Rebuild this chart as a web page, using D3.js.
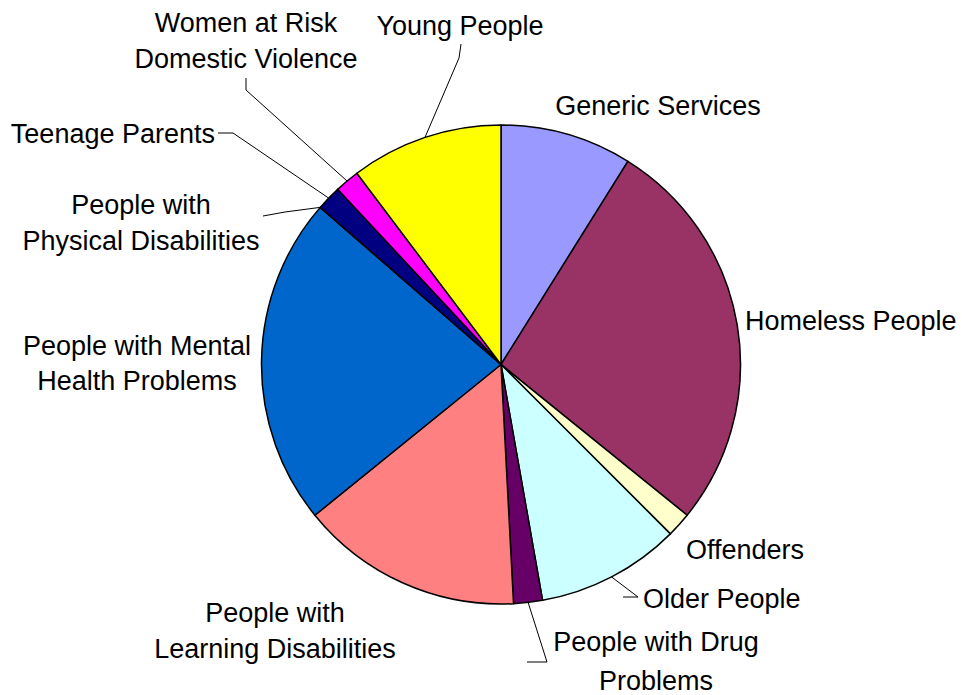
<!DOCTYPE html>
<html>
<head>
<meta charset="utf-8">
<script src="https://cdn.jsdelivr.net/npm/d3@7/dist/d3.min.js"></script>
<style>
  html, body { margin: 0; padding: 0; background: #fff; }
  svg text { font-family: "Liberation Sans", Arial, sans-serif; font-size: 27px; fill: #000; }
</style>
</head>
<body>
<svg id="chart" width="962" height="695"></svg>
<script>
// ---- data ----
const categories = [
  "Generic Services", "Homeless People", "Offenders", "Older People",
  "People with Drug Problems", "People with Learning Disabilities",
  "People with Mental Health Problems", "People with Physical Disabilities",
  "Teenage Parents", "Women at Risk Domestic Violence", "Young People"
];
const values = [32, 97, 6, 35, 7, 54, 80, 0, 6, 6, 37];
const labelLines = [
  ["Generic Services"], ["Homeless People"], ["Offenders"], ["Older People"],
  ["People with Drug", "Problems"], ["People with", "Learning Disabilities"],
  ["People with Mental", "Health Problems"], ["People with", "Physical Disabilities"],
  ["Teenage Parents"], ["Women at Risk", "Domestic Violence"], ["Young People"]
];
const colors = ["#9999FF", "#993366", "#FFFFCC", "#CCFFFF", "#660066", "#FF8080",
                "#0066CC", "#CCCCFF", "#000080", "#FF00FF", "#FFFF00"];

// ---- layout (label placement) ----
const cx = 501, cy = 364.5, R = 239.5;
const labelLayout = [
  { x: 658, y: [105], anchor: "middle" },
  { x: 745, y: [320], anchor: "start" },
  { x: 686, y: [549], anchor: "start" },
  { x: 643, y: [598], anchor: "start", leader: [[623, 597], [638, 597]] },
  { x: 656, y: [641, 680], anchor: "middle", leader: [[527, 662], [547, 662]] },
  { x: 275, y: [612, 648], anchor: "middle" },
  { x: 137, y: [345, 380], anchor: "middle" },
  { x: 141, y: [204, 240], anchor: "middle", leader: [[263, 216], [285, 212]], mode: "start" },
  { x: 215, y: [133], anchor: "end", leader: [[218, 133], [233, 133]] },
  { x: 246, y: [22, 58], anchor: "middle", leader: [[246, 78], [246, 90]] },
  { x: 460, y: [25], anchor: "middle", leader: [[461, 44], [459, 58]] }
];

const svg = d3.select("#chart");
const g = svg.append("g").attr("transform", `translate(${cx},${cy})`);

const pie = d3.pie().sort(null).value(d => d);
const arcs = pie(values);
const arc = d3.arc().innerRadius(0).outerRadius(R);

g.selectAll("path.slice")
  .data(arcs)
  .join("path")
  .attr("class", "slice")
  .attr("d", arc)
  .attr("fill", (d, i) => colors[i])
  .attr("stroke", "#000")
  .attr("stroke-width", 1.5)
  .attr("stroke-linejoin", "round");

// leader lines
arcs.forEach((d, i) => {
  const L = labelLayout[i];
  if (!L.leader) return;
  const a = (L.mode === "start") ? d.startAngle : (d.startAngle + d.endAngle) / 2;
  const px = cx + R * Math.sin(a), py = cy - R * Math.cos(a);
  const pts = [[px, py]].concat(L.leader.slice().reverse());
  svg.append("path")
    .attr("d", d3.line()(pts))
    .attr("fill", "none")
    .attr("stroke", "#000")
    .attr("stroke-width", 1);
});

// labels
labelLayout.forEach((L, i) => {
  const t = svg.append("text").attr("text-anchor", L.anchor);
  labelLines[i].forEach((line, j) => {
    t.append("tspan").attr("x", L.x).attr("y", L.y[j]).attr("dy", "0.36em").text(line);
  });
});
</script>
</body>
</html>
